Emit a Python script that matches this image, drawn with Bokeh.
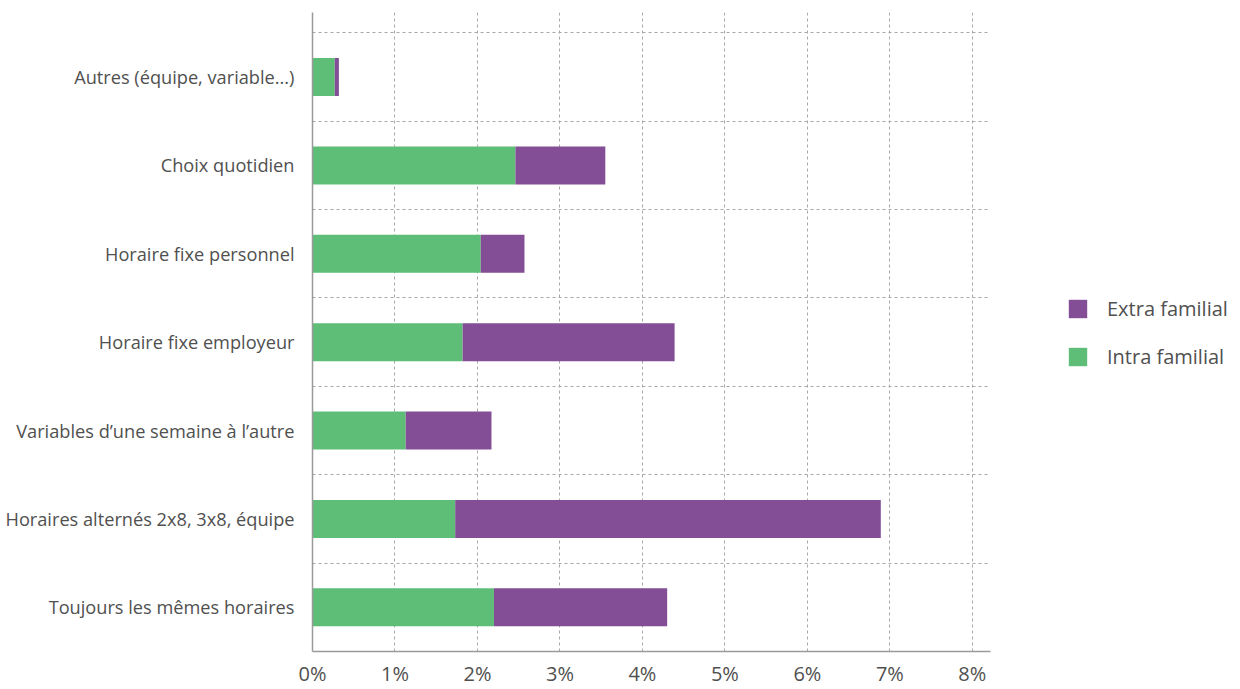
from bokeh.plotting import figure
from bokeh.layouts import row
from bokeh.models import ColumnDataSource, FixedTicker, Range1d, Legend, LegendItem
from bokeh.embed import file_html
from bokeh.resources import INLINE

categories = [
    "Toujours les mêmes horaires",
    "Horaires alternés 2x8, 3x8, équipe",
    "Variables d\u2019une semaine à l\u2019autre",
    "Horaire fixe employeur",
    "Horaire fixe personnel",
    "Choix quotidien",
    "Autres (équipe, variable...)",
]
intra = [2.20, 1.73, 1.13, 1.82, 2.04, 2.46, 0.27]
extra = [2.10, 5.16, 1.04, 2.57, 0.53, 1.09, 0.05]
x_ticks = [0, 1, 2, 3, 4, 5, 6, 7, 8]
x_labels = [f"{t}%" for t in x_ticks]
series_names = ["Extra familial", "Intra familial"]

GREEN = "#5ebe77"
PURPLE = "#834e96"
FONT = "Open Sans"
TXT = "#505050"

ypos = [i + 0.5 for i in range(len(categories))]
total = [a + b for a, b in zip(intra, extra)]
src = ColumnDataSource(dict(y=ypos, intra=intra, total=total, zero=[0] * len(ypos)))

p = figure(frame_width=678, frame_height=639, output_backend="svg", toolbar_location=None,
           x_range=Range1d(0, 8.22), y_range=Range1d(0, 7.23),
           min_border_left=312, min_border_right=20, min_border_top=12, min_border_bottom=0)
p.outline_line_color = None

r_intra = p.hbar(y="y", left="zero", right="intra", height=0.43, source=src,
                 fill_color=GREEN, line_color=None)
r_extra = p.hbar(y="y", left="intra", right="total", height=0.43, source=src,
                 fill_color=PURPLE, line_color=None)

p.xaxis.ticker = FixedTicker(ticks=x_ticks)
p.xaxis.major_label_overrides = {t: l for t, l in zip(x_ticks, x_labels)}
p.yaxis.ticker = FixedTicker(ticks=ypos)
p.yaxis.major_label_overrides = {y: c for y, c in zip(ypos, categories)}
for ax in (p.xaxis[0], p.yaxis[0]):
    ax.axis_line_color = "#9a9a9a"
    ax.axis_line_width = 1.5
    ax.major_tick_line_color = None
    ax.minor_tick_line_color = None
    ax.major_label_text_font = FONT
    ax.major_label_text_color = TXT
p.xaxis.major_label_text_font_size = "20px"
p.xaxis.major_label_standoff = 2
p.yaxis.major_label_text_font_size = "18.2px"
p.yaxis.major_label_standoff = 12

p.xgrid.ticker = FixedTicker(ticks=x_ticks[1:])
p.ygrid.ticker = FixedTicker(ticks=list(range(1, len(categories) + 1)))
for g in (p.xgrid[0], p.ygrid[0]):
    g.grid_line_color = "#a8a8a8"
    g.grid_line_dash = "3 3"
    g.grid_line_width = 1

# legend panel (proxy renderers placed outside the visible range)
p2 = figure(width=230, frame_height=639, output_backend="svg", toolbar_location=None,
            x_range=Range1d(0, 1), y_range=Range1d(0, 1),
            min_border_left=0, min_border_right=0, min_border_top=12, min_border_bottom=0)
p2.axis.visible = False
p2.grid.visible = False
p2.outline_line_color = None
proxy = ColumnDataSource(dict(y=[-5], left=[-5], right=[-5]))
l_extra = p2.hbar(y="y", left="left", right="right", height=0.5, source=proxy,
                  fill_color=PURPLE, line_color=None)
l_intra = p2.hbar(y="y", left="left", right="right", height=0.5, source=proxy,
                  fill_color=GREEN, line_color=None)
legend = Legend(items=[LegendItem(label=series_names[0], renderers=[l_extra]),
                       LegendItem(label=series_names[1], renderers=[l_intra])],
                location=(56, 281), orientation="vertical")
legend.glyph_width = 23
legend.glyph_height = 23
legend.label_height = 28
legend.label_standoff = 18
legend.spacing = 20
legend.label_text_font = FONT
legend.label_text_font_size = "20px"
legend.label_text_color = TXT
legend.border_line_color = None
legend.background_fill_alpha = 0
legend.margin = 0
legend.padding = 0
p2.add_layout(legend, "center")

open("out.html", "w").write(file_html(row(p, p2), INLINE))
